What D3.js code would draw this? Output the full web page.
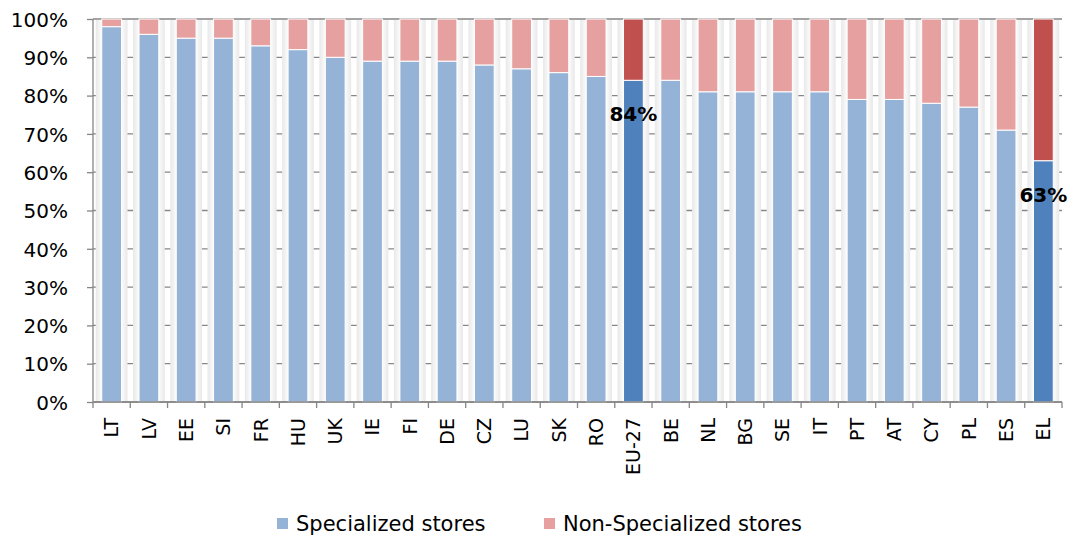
<!DOCTYPE html>
<html>
<head>
<meta charset="utf-8">
<script src="https://cdn.jsdelivr.net/npm/d3@7"></script>
<style>
  body { margin: 0; background: #fff; }
  text { font-family: "DejaVu Sans", sans-serif; fill: #000; }
</style>
</head>
<body>
<div id="chart"></div>
<script>
// data
var countries = ["LT", "LV", "EE", "SI", "FR", "HU", "UK", "IE", "FI", "DE", "CZ", "LU", "SK",
  "RO", "EU-27", "BE", "NL", "BG", "SE", "IT", "PT", "AT", "CY", "PL", "ES", "EL"];
var specialized = [98, 96, 95, 95, 93, 92, 90, 89, 89, 89, 88, 87, 86,
  85, 84, 84, 81, 81, 81, 81, 79, 79, 78, 77, 71, 63];
var highlighted = ["EU-27", "EL"];
var yTicks = [0, 10, 20, 30, 40, 50, 60, 70, 80, 90, 100];
var seriesNames = ["Specialized stores", "Non-Specialized stores"];

var svgWidth = 1075;
var svgHeight = 537;
var margin = { top: 19, right: 13, bottom: 135, left: 93 };
var width = svgWidth - margin.left - margin.right;
var height = svgHeight - margin.top - margin.bottom;

var colors = {
  spec: "#95b3d7",
  nonSpec: "#e6a0a0",
  specHi: "#4f81bd",
  nonSpecHi: "#c0504d"
};

var svg = d3.select("#chart")
  .append("svg")
  .attr("width", svgWidth)
  .attr("height", svgHeight);

var defs = svg.append("defs");
var glow = defs.append("linearGradient").attr("id", "glow");
glow.append("stop").attr("offset", "0%").attr("stop-color", "#e8e8e8");
glow.append("stop").attr("offset", "22%").attr("stop-color", "#fff");
glow.append("stop").attr("offset", "78%").attr("stop-color", "#fff");
glow.append("stop").attr("offset", "100%").attr("stop-color", "#e8e8e8");

var chartGroup = svg.append("g")
  .attr("transform", `translate(${margin.left}, ${margin.top})`);

var xScale = d3.scaleBand()
  .domain(countries)
  .range([0, width])
  .paddingInner(0.47)
  .paddingOuter(0.235);

var bandStep = width / countries.length;
var xBand = d3.scaleBand().domain(countries).range([0, width]);

var yScale = d3.scaleLinear()
  .domain([0, 100])
  .range([height, 0]);

// gridlines
chartGroup.append("g")
  .selectAll("line")
  .data(yTicks)
  .enter()
  .append("line")
  .attr("x1", 0)
  .attr("x2", width)
  .attr("y1", d => yScale(d))
  .attr("y2", d => yScale(d))
  .attr("stroke", "#868686")
  .attr("stroke-width", 1.3);

// white halo around each bar
var barW = xScale.bandwidth();
chartGroup.append("g")
  .selectAll("rect")
  .data(countries)
  .enter()
  .append("rect")
  .attr("x", d => xScale(d) - 6)
  .attr("y", yScale(100) + 1)
  .attr("width", barW + 12)
  .attr("height", height - 2)
  .attr("fill", "url(#glow)");

var bars = chartGroup.append("g")
  .selectAll("g")
  .data(countries)
  .enter()
  .append("g");

bars.append("rect")
  .attr("x", d => xScale(d))
  .attr("y", (d, i) => yScale(specialized[i]))
  .attr("width", barW)
  .attr("height", (d, i) => height - yScale(specialized[i]))
  .attr("fill", d => highlighted.includes(d) ? colors.specHi : colors.spec)
  .attr("stroke", "#fff")
  .attr("stroke-width", 1);

bars.append("rect")
  .attr("x", d => xScale(d))
  .attr("y", yScale(100))
  .attr("width", barW)
  .attr("height", (d, i) => yScale(specialized[i]) - yScale(100))
  .attr("fill", d => highlighted.includes(d) ? colors.nonSpecHi : colors.nonSpec)
  .attr("stroke", "#fff")
  .attr("stroke-width", 1);

// labels on highlighted bars
chartGroup.append("g")
  .selectAll("text")
  .data(highlighted)
  .enter()
  .append("text")
  .attr("x", d => xScale(d) + barW / 2)
  .attr("y", d => yScale(specialized[countries.indexOf(d)]) + 41)
  .attr("text-anchor", "middle")
  .style("font-weight", "bold")
  .style("font-size", "20px")
  .text(d => specialized[countries.indexOf(d)] + "%");

// y axis
var leftAxis = d3.axisLeft(yScale)
  .tickValues(yTicks)
  .tickSize(6)
  .tickPadding(19)
  .tickFormat(d => d + "%");

var yAxis = chartGroup.append("g").call(leftAxis);
yAxis.select(".domain").attr("stroke", "#868686").attr("stroke-width", 1.3).attr("d", `M0,0V${height}`);
yAxis.selectAll(".tick line").attr("stroke", "#868686").attr("stroke-width", 1.3);
yAxis.selectAll("text")
  .style("font-family", "DejaVu Sans, sans-serif")
  .style("font-size", "20px")
  .attr("dy", "0.36em");

// x axis
var xAxis = chartGroup.append("g")
  .attr("transform", `translate(0, ${height})`);

xAxis.append("line")
  .attr("x1", 0).attr("x2", width)
  .attr("stroke", "#868686").attr("stroke-width", 1.3);

xAxis.selectAll("line.tk")
  .data(d3.range(countries.length + 1))
  .enter()
  .append("line")
  .attr("class", "tk")
  .attr("x1", d => d * bandStep)
  .attr("x2", d => d * bandStep)
  .attr("y1", 0)
  .attr("y2", 6)
  .attr("stroke", "#868686")
  .attr("stroke-width", 1.3);

xAxis.selectAll("text")
  .data(countries)
  .enter()
  .append("text")
  .attr("transform", d => `translate(${xBand(d) + xBand.bandwidth() / 2}, 16) rotate(-90)`)
  .attr("text-anchor", "end")
  .attr("dy", "0.36em")
  .style("font-size", "19px")
  .text(d => d);

// legend
var legend = svg.append("g").attr("transform", "translate(277, 523)");
var legendItems = [
  { name: seriesNames[0], color: colors.spec, x: 0 },
  { name: seriesNames[1], color: colors.nonSpec, x: 267 }
];
var li = legend.selectAll("g")
  .data(legendItems)
  .enter()
  .append("g")
  .attr("transform", d => `translate(${d.x}, 0)`);
li.append("rect")
  .attr("x", 0).attr("y", -5)
  .attr("width", 11).attr("height", 11)
  .attr("fill", d => d.color);
li.append("text")
  .attr("x", 19)
  .attr("dy", "0.36em")
  .style("font-size", "21px")
  .text(d => d.name);
</script>
</body>
</html>
